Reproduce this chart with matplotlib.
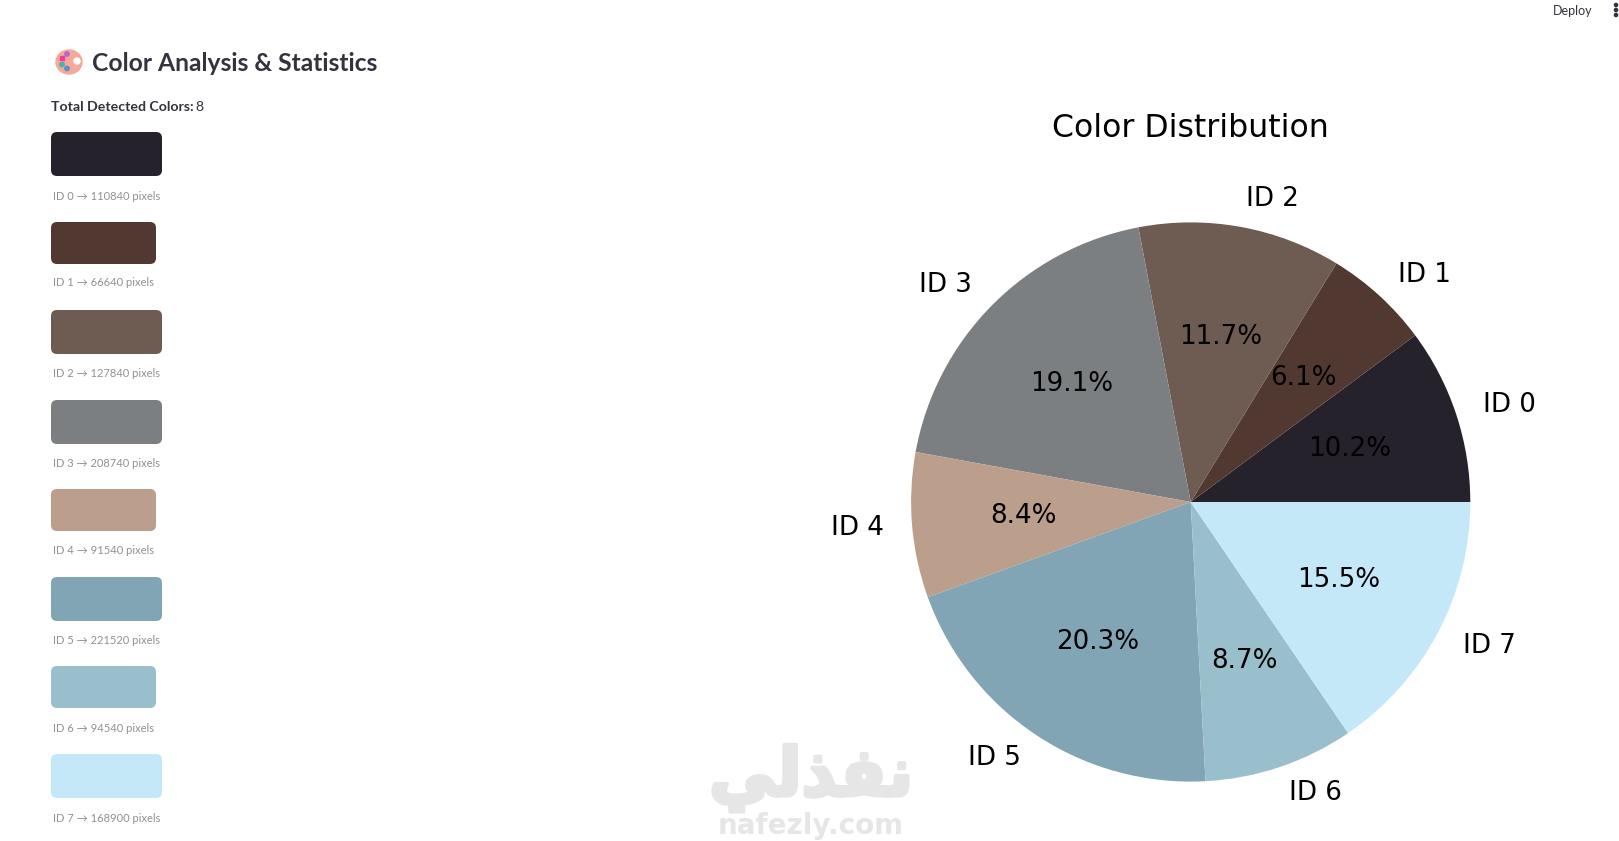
import matplotlib
matplotlib.use('Agg')
import matplotlib.pyplot as plt
import matplotlib.patheffects as pe
from matplotlib.patches import FancyBboxPatch, Ellipse, Circle, Rectangle

# values from the captions
ids = ['ID 0', 'ID 1', 'ID 2', 'ID 3', 'ID 4', 'ID 5', 'ID 6', 'ID 7']
pixel_counts = [110840, 66640, 127840, 208740, 91540, 221520, 94540, 168900]
colors = ['#25222b', '#513830', '#6e5b51', '#7c7f81', '#bc9e8c', '#82a5b5', '#9abfcc', '#c5e8f9']

# sidebar layout in image pixels
swatch_top = [132, 222, 310, 400, 489, 577, 666, 754]
swatch_bottom = [176, 264, 354, 444, 531, 621, 708, 798]
swatch_width = [111, 105, 111, 111, 105, 111, 105, 111]
caption_y = [196, 283, 373, 463, 551, 641, 728, 818]

W, H = 1619, 841
UI_FONT = ['Lato', 'DejaVu Sans']
TEXT = '#31333f'
WATERMARK = '#e6e6e6'

fig = plt.figure(figsize=(W / 100, H / 100), dpi=100, facecolor='white')

# page axes, measured in pixels from the top left
page = fig.add_axes([0, 0, 1, 1])
page.set_xlim(0, W)
page.set_ylim(H, 0)
page.axis('off')

# palette icon
page.add_patch(Ellipse((69, 62), 26, 24, color='#f5a998'))
page.add_patch(Circle((77, 61), 3, color='white'))
page.add_patch(Rectangle((60, 56), 4, 4, color='#ee3f9a'))
page.add_patch(Circle((67, 54), 2.2, color='#b26ad0'))
page.add_patch(Circle((62, 64.5), 2.2, color='#4fb0a8'))
page.add_patch(Circle((67, 68.5), 2.2, color='#5a8fd0'))

page.text(92, 63, 'Color Analysis & Statistics', fontsize=17.7, fontweight='bold',
          color=TEXT, family=UI_FONT, va='center')
page.text(51, 107, 'Total Detected Colors:', fontsize=10.2, fontweight='bold',
          color=TEXT, family=UI_FONT, va='center')
page.text(195, 107, '8', fontsize=10.2, color=TEXT, family=UI_FONT, va='center')
page.text(1553, 11, 'Deploy', fontsize=9, color=TEXT, family=UI_FONT, va='center')
for y in [5, 10, 15]:
    page.add_patch(Circle((1616, y), 1.6, color=TEXT))

for i in range(len(ids)):
    h = swatch_bottom[i] - swatch_top[i]
    page.add_patch(FancyBboxPatch((51 + 6, swatch_top[i] + 6), swatch_width[i] - 12, h - 12,
                                  boxstyle='round,pad=6,rounding_size=6',
                                  facecolor=colors[i], edgecolor='none'))
    page.text(53, caption_y[i], f'{ids[i]} \u2192 {pixel_counts[i]} pixels', fontsize=8,
              color='#8f9096', family=UI_FONT, va='center')

# watermark, glyphs in visual order since matplotlib does no bidi
page.text(811, 778, '\ufef2\ufedf\ufeac\ufed4\ufee7', fontsize=48, fontweight='bold', color=WATERMARK,
          family='DejaVu Sans', ha='center', va='center',
          path_effects=[pe.withStroke(linewidth=3, foreground=WATERMARK)])
page.text(811, 826, 'nafezly.com', fontsize=20, color=WATERMARK, fontweight='bold',
          family='DejaVu Sans', ha='center', va='center')

# pie, centre (1190.7, 502) and radius 280 px
box = 699
pie_ax = fig.add_axes([(1190.7 - box / 2) / W, (H - 502 - box / 2) / H, box / W, box / H])
pie_ax.patch.set_alpha(0)
pie_ax.pie(pixel_counts, labels=ids, colors=colors, autopct='%1.1f%%',
           textprops={'fontsize': 18.8})
pie_ax.set_xlim(-1.25, 1.25)
pie_ax.set_ylim(-1.25, 1.25)
pie_ax.set_title('Color Distribution', fontsize=22.7, pad=11.5)

fig.savefig('out.png', dpi=100)
